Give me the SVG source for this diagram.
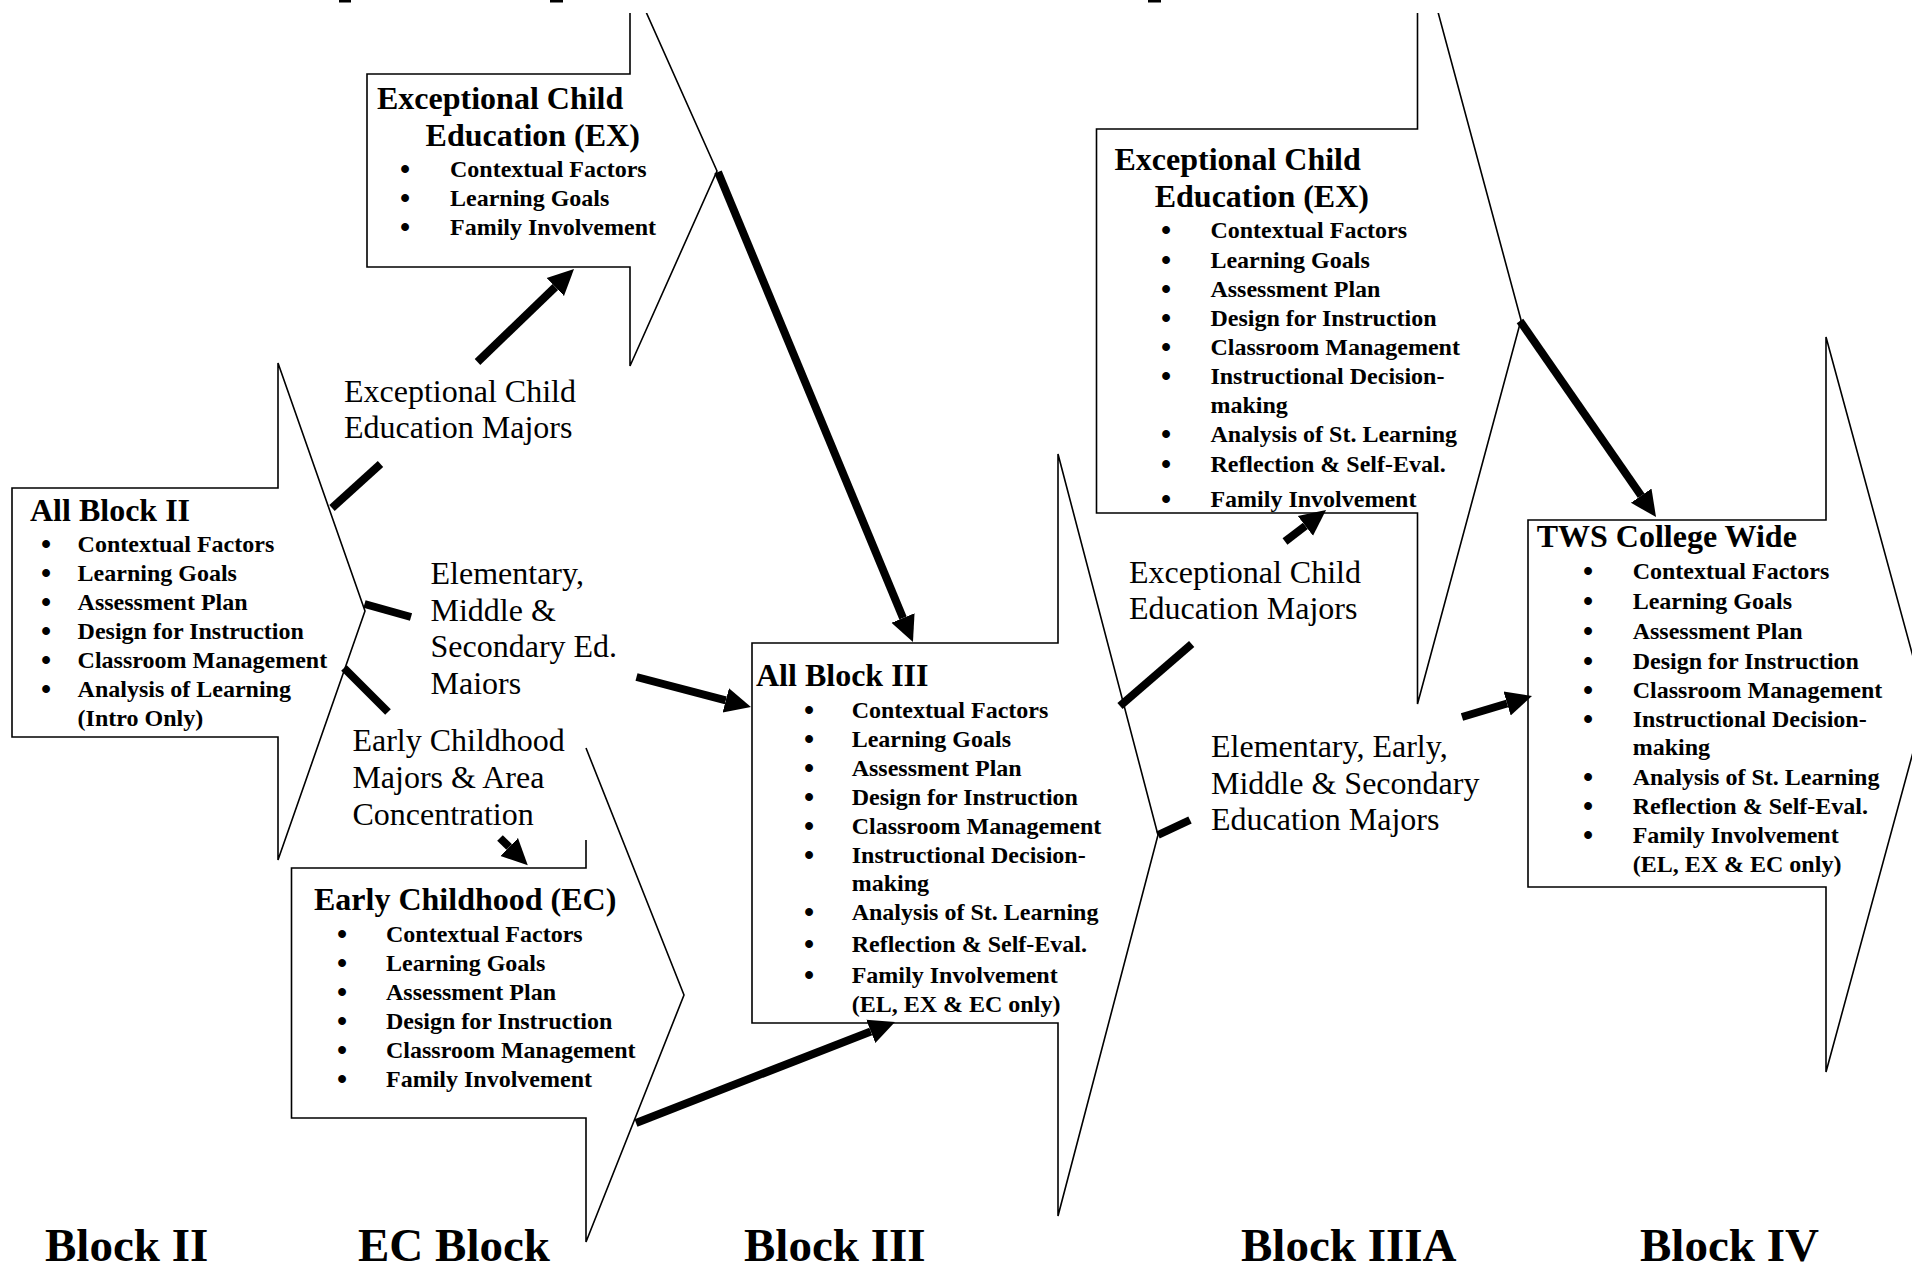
<svg xmlns="http://www.w3.org/2000/svg" width="1912" height="1272" viewBox="0 0 1912 1272">
<style>
  .shape { fill: #ffffff; stroke: #000000; stroke-width: 1.6; stroke-linejoin: miter; }
  .edge { fill: #ffffff; stroke: none; }
  .outline { fill: none; stroke: #000000; stroke-width: 1.6; }
  .conn { stroke: #000000; stroke-width: 8; fill: none; stroke-linecap: butt; }
  .title { font-family: "Liberation Serif", "Times New Roman", serif; font-weight: bold; font-size: 32px; fill: #000; }
  .item { font-family: "Liberation Serif", "Times New Roman", serif; font-weight: bold; font-size: 24px; fill: #000; }
  .bul { font-family: "Liberation Serif", "Times New Roman", serif; font-weight: bold; font-size: 29px; fill: #000; }
  .label { font-family: "Liberation Serif", "Times New Roman", serif; font-size: 32px; fill: #000; }
  .block { font-family: "Liberation Serif", "Times New Roman", serif; font-weight: bold; font-size: 47px; fill: #000; }
</style>
<defs>
  <marker id="ah" viewBox="0 -14 28 28" refX="0" refY="0" markerWidth="28" markerHeight="28" markerUnits="userSpaceOnUse" orient="auto">
    <path d="M0,-12.5 L26,0 L0,12.5 Z" fill="#000"/>
  </marker>
</defs>
<rect x="0" y="0" width="1912" height="1272" fill="#ffffff"/>

<!-- node shapes -->
<g id="node-block2">
  <path class="shape" d="M12,488 H278 V363 L365,611 L278,860 V737 H12 Z"/>
  <text class="title" x="30" y="521">All Block II</text>
  <text class="bul" x="41" y="554">•</text><text class="item" x="77.6" y="552">Contextual Factors</text>
  <text class="bul" x="41" y="583">•</text><text class="item" x="77.6" y="581">Learning Goals</text>
  <text class="bul" x="41" y="612">•</text><text class="item" x="77.6" y="610">Assessment Plan</text>
  <text class="bul" x="41" y="641.3">•</text><text class="item" x="77.6" y="639.3">Design for Instruction</text>
  <text class="bul" x="41" y="670.3">•</text><text class="item" x="77.6" y="668.3">Classroom Management</text>
  <text class="bul" x="41" y="699.3">•</text><text class="item" x="77.6" y="697.3">Analysis of Learning</text>
  <text class="item" x="77.6" y="726">(Intro Only)</text>
</g>

<g id="node-ex-top">
  <path class="shape" d="M367,74 H630 V-24 L717,171 L630,366 V267 H367 Z"/>
  <text class="title" x="377" y="109">Exceptional Child</text>
  <text class="title" x="425.6" y="145.5">Education (EX)</text>
  <text class="bul" x="400" y="178.7">•</text><text class="item" x="450" y="176.7">Contextual Factors</text>
  <text class="bul" x="400" y="207.7">•</text><text class="item" x="450" y="205.7">Learning Goals</text>
  <text class="bul" x="400" y="237">•</text><text class="item" x="450" y="235">Family Involvement</text>
</g>

<g id="node-ec">
  <path class="edge" d="M291.5,868 H586 V748 L684,995 L586,1242 V1118 H291.5 Z"/>
  <path class="outline" d="M586,840 V868 H291.5 V1118 H586 V1242 L684,995 L586,748"/>
  <text class="title" x="314" y="910">Early Childhood (EC)</text>
  <text class="bul" x="337" y="943.7">•</text><text class="item" x="386" y="941.7">Contextual Factors</text>
  <text class="bul" x="337" y="972.7">•</text><text class="item" x="386" y="970.7">Learning Goals</text>
  <text class="bul" x="337" y="1002">•</text><text class="item" x="386" y="1000">Assessment Plan</text>
  <text class="bul" x="337" y="1031.3">•</text><text class="item" x="386" y="1029.3">Design for Instruction</text>
  <text class="bul" x="337" y="1060.3">•</text><text class="item" x="386" y="1058.3">Classroom Management</text>
  <text class="bul" x="337" y="1089.3">•</text><text class="item" x="386" y="1087.3">Family Involvement</text>
</g>

<g id="node-block3">
  <path class="shape" d="M752,643 H1058 V454 L1158,835 L1058,1216 V1023 H752 Z"/>
  <text class="title" x="756" y="686">All Block III</text>
  <text class="bul" x="804" y="719.7">•</text><text class="item" x="851.7" y="717.7">Contextual Factors</text>
  <text class="bul" x="804" y="748.7">•</text><text class="item" x="851.7" y="746.7">Learning Goals</text>
  <text class="bul" x="804" y="777.7">•</text><text class="item" x="851.7" y="775.7">Assessment Plan</text>
  <text class="bul" x="804" y="807">•</text><text class="item" x="851.7" y="805">Design for Instruction</text>
  <text class="bul" x="804" y="836.3">•</text><text class="item" x="851.7" y="834.3">Classroom Management</text>
  <text class="bul" x="804" y="865.3">•</text><text class="item" x="851.7" y="863.3">Instructional Decision-</text>
  <text class="item" x="851.7" y="890.5">making</text>
  <text class="bul" x="804" y="922.4">•</text><text class="item" x="851.7" y="920.4">Analysis of St. Learning</text>
  <text class="bul" x="804" y="954">•</text><text class="item" x="851.7" y="952">Reflection &amp; Self-Eval.</text>
  <text class="bul" x="804" y="985.2">•</text><text class="item" x="851.7" y="983.2">Family Involvement</text>
  <text class="item" x="851.7" y="1011.8">(EL, EX &amp; EC only)</text>
</g>

<g id="node-ex-right">
  <path class="shape" d="M1096.5,129 H1417.5 V-64 L1521,320 L1417.5,704 V513 H1096.5 Z"/>
  <text class="title" x="1114.5" y="170">Exceptional Child</text>
  <text class="title" x="1154.7" y="206.5">Education (EX)</text>
  <text class="bul" x="1161" y="240">•</text><text class="item" x="1210.4" y="238">Contextual Factors</text>
  <text class="bul" x="1161" y="269.5">•</text><text class="item" x="1210.4" y="267.5">Learning Goals</text>
  <text class="bul" x="1161" y="298.5">•</text><text class="item" x="1210.4" y="296.5">Assessment Plan</text>
  <text class="bul" x="1161" y="328">•</text><text class="item" x="1210.4" y="326">Design for Instruction</text>
  <text class="bul" x="1161" y="357">•</text><text class="item" x="1210.4" y="355">Classroom Management</text>
  <text class="bul" x="1161" y="385.5">•</text><text class="item" x="1210.4" y="383.5">Instructional Decision-</text>
  <text class="item" x="1210.4" y="412.5">making</text>
  <text class="bul" x="1161" y="443.7">•</text><text class="item" x="1210.4" y="441.7">Analysis of St. Learning</text>
  <text class="bul" x="1161" y="474">•</text><text class="item" x="1210.4" y="472">Reflection &amp; Self-Eval.</text>
  <text class="bul" x="1161" y="508.5">•</text><text class="item" x="1210.4" y="506.5">Family Involvement</text>
</g>

<g id="node-tws">
  <path class="shape" d="M1528,520 H1826 V337 L1926,704.5 L1826,1072 V887 H1528 Z"/>
  <text class="title" x="1536.7" y="547">TWS College Wide</text>
  <text class="bul" x="1583" y="581">•</text><text class="item" x="1632.7" y="579">Contextual Factors</text>
  <text class="bul" x="1583" y="611">•</text><text class="item" x="1632.7" y="609">Learning Goals</text>
  <text class="bul" x="1583" y="641">•</text><text class="item" x="1632.7" y="639">Assessment Plan</text>
  <text class="bul" x="1583" y="670.5">•</text><text class="item" x="1632.7" y="668.5">Design for Instruction</text>
  <text class="bul" x="1583" y="700">•</text><text class="item" x="1632.7" y="698">Classroom Management</text>
  <text class="bul" x="1583" y="729">•</text><text class="item" x="1632.7" y="727">Instructional Decision-</text>
  <text class="item" x="1632.7" y="755">making</text>
  <text class="bul" x="1583" y="787">•</text><text class="item" x="1632.7" y="785">Analysis of St. Learning</text>
  <text class="bul" x="1583" y="816">•</text><text class="item" x="1632.7" y="814">Reflection &amp; Self-Eval.</text>
  <text class="bul" x="1583" y="845">•</text><text class="item" x="1632.7" y="843">Family Involvement</text>
  <text class="item" x="1632.7" y="872">(EL, EX &amp; EC only)</text>
</g>

<!-- top strip covering cut-off title -->
<rect x="0" y="0" width="1912" height="13" fill="#ffffff"/>
<rect x="339" y="0" width="12" height="2.5" fill="#000"/>
<rect x="550" y="0" width="13" height="2.5" fill="#000"/>
<rect x="1148" y="0" width="13" height="2.5" fill="#000"/>

<!-- connectors -->
<g id="connectors">
  <g id="c-block2-ex">
    <line class="conn" x1="332" y1="508" x2="380.5" y2="464"/>
    <line class="conn" x1="477.5" y1="362" x2="555.3" y2="287" marker-end="url(#ah)"/>
  </g>
  <g id="c-block2-block3">
    <line class="conn" x1="364.5" y1="604" x2="411" y2="617"/>
    <line class="conn" x1="636.5" y1="677" x2="725.8" y2="700.4" marker-end="url(#ah)"/>
  </g>
  <g id="c-block2-ec">
    <line class="conn" x1="344" y1="668" x2="388" y2="712"/>
    <line class="conn" x1="500" y1="838" x2="509.2" y2="847" marker-end="url(#ah)"/>
  </g>
  <g id="c-ex-block3">
    <line class="conn" x1="718" y1="172" x2="903" y2="618" marker-end="url(#ah)"/>
  </g>
  <g id="c-ec-block3">
    <line class="conn" x1="636" y1="1123" x2="870.8" y2="1031.4" marker-end="url(#ah)"/>
  </g>
  <g id="c-block3-ex">
    <line class="conn" x1="1120" y1="706" x2="1191.7" y2="644"/>
    <line class="conn" x1="1285" y1="541.5" x2="1305.4" y2="525.9" marker-end="url(#ah)"/>
  </g>
  <g id="c-block3-tws">
    <line class="conn" x1="1158" y1="835" x2="1190" y2="820"/>
    <line class="conn" x1="1462" y1="717" x2="1507.1" y2="703.5" marker-end="url(#ah)"/>
  </g>
  <g id="c-ex-tws">
    <line class="conn" x1="1520" y1="321" x2="1641.2" y2="495.7" marker-end="url(#ah)"/>
  </g>
</g>

<!-- connector labels -->
<g id="labels">
  <text class="label" x="344" y="402">Exceptional Child</text>
  <text class="label" x="344" y="438">Education Majors</text>
  <text class="label" x="430.5" y="584">Elementary,</text>
  <text class="label" x="430.5" y="620.5">Middle &amp;</text>
  <text class="label" x="430.5" y="657">Secondary Ed.</text>
  <text class="label" x="430.5" y="693.5">Maiors</text>
  <text class="label" x="352.4" y="751">Early Childhood</text>
  <text class="label" x="352.4" y="788">Majors &amp; Area</text>
  <text class="label" x="352.4" y="825">Concentration</text>
  <text class="label" x="1129" y="582.5">Exceptional Child</text>
  <text class="label" x="1129" y="619">Education Majors</text>
  <text class="label" x="1211" y="757">Elementary, Early,</text>
  <text class="label" x="1211" y="793.5">Middle &amp; Secondary</text>
  <text class="label" x="1211" y="830">Education Majors</text>
</g>

<!-- block captions -->
<g id="captions">
  <text class="block" x="45" y="1261">Block II</text>
  <text class="block" x="358" y="1261">EC Block</text>
  <text class="block" x="744" y="1261">Block III</text>
  <text class="block" x="1241" y="1261">Block IIIA</text>
  <text class="block" x="1640" y="1261">Block IV</text>
</g>
</svg>
